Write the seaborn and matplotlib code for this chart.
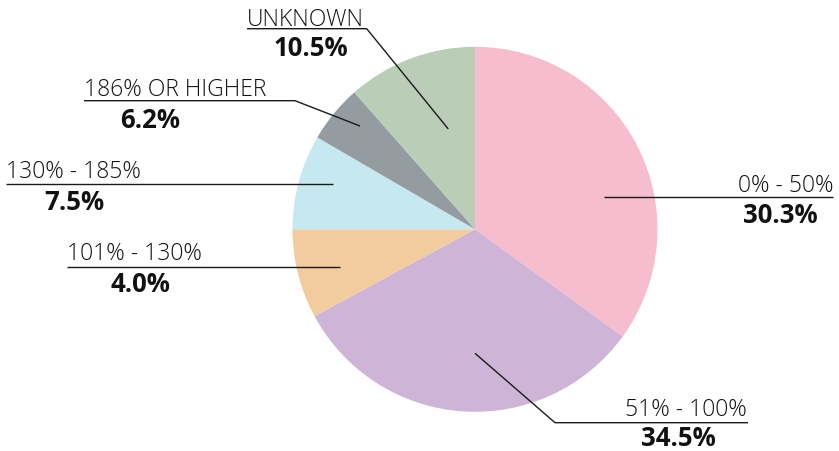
import matplotlib.pyplot as plt
import seaborn as sns

# slice sizes as drawn in the picture (arc share, %), and the printed labels
groups = ["0% - 50%", "51% - 100%", "101% - 130%", "130% - 185%", "186% OR HIGHER", "UNKNOWN"]
arc_share = [35.0, 32.1, 7.9, 8.4, 5.1, 11.5]
printed_pct = [30.3, 34.5, 4.0, 7.5, 6.2, 10.5]
colors = ["#F6BDCF", "#CEB4D7", "#F2CC9E", "#C6E8F1", "#959CA1", "#B9CDB7"]

W, H = 839, 451

sns.set_theme(style="white")
plt.rcParams["font.family"] = ["Open Sans", "DejaVu Sans"]

fig = plt.figure(figsize=(W / 100, H / 100), dpi=100)
ax = fig.add_axes([0, 0, 1, 1])


def P(x, y):
    # pixel coords (y down) -> axes coords (y up)
    return x, H - y


ax.pie(arc_share, colors=colors, startangle=90, counterclock=False,
       center=P(475, 229.3), radius=182.5, frame=True,
       wedgeprops=dict(linewidth=0, antialiased=True))
ax.set_xlim(0, W)
ax.set_ylim(0, H)
ax.set_aspect("equal")
ax.axis("off")

# leader lines: list of points (pixel coords)
leaders = [
    [(604, 197.3), (833, 197.3)],
    [(475, 353.3), (555, 422.7), (748, 422.7)],
    [(340, 266.7), (67, 266.7)],
    [(332.7, 183.7), (6, 183.7)],
    [(360, 126), (295, 100.7), (84, 100.7)],
    [(448.3, 129), (366.7, 28.7), (247, 28.7)],
]
# label layout: (x, baseline y, alignment) for group text; (x center, baseline y) for value
label_pos = [(833, 192, "right"), (747, 416.5, "right"), (67, 260, "left"),
             (6, 178, "left"), (84, 96.5, "left"), (247, 26, "left")]
value_pos = [(780, 223), (678.5, 445.5), (140, 291.5), (74, 210), (150, 128.5), (311, 56)]

for pts, (lx, ly, ha), (vx, vy), name, pct in zip(leaders, label_pos, value_pos, groups, printed_pct):
    xs = [P(*p)[0] for p in pts]
    ys = [P(*p)[1] for p in pts]
    ax.plot(xs, ys, color="#1a1a1a", lw=1.0, solid_capstyle="butt")
    ax.text(*P(lx, ly), name, ha=ha, va="baseline", fontsize=16.5,
            fontweight="light", color="#111111")
    ax.text(*P(vx, vy), f"{pct:.1f}%", ha="center", va="baseline", fontsize=18.5,
            fontweight="bold", color="#111111")

fig.savefig("out.png", dpi=100, facecolor="white")
